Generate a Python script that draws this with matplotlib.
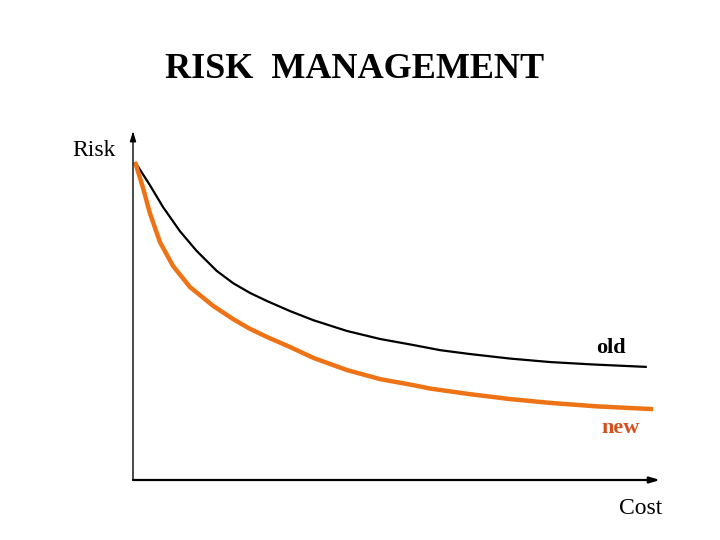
import matplotlib
matplotlib.use("Agg")
import matplotlib.pyplot as plt

# curves (cost and risk in arbitrary 0-100 units)
old_cost = [0.4, 3.2, 5.7, 8.9, 12.1, 15.9, 19.0, 22.2, 25.4, 29.8, 34.2, 40.6,
            46.9, 53.1, 58.3, 63.9, 71.5, 79.1, 87.3, 97.5]
old_risk = [91.1, 84.5, 78.2, 71.3, 65.6, 59.9, 56.4, 53.6, 51.3, 48.4, 45.8, 42.7,
            40.4, 38.7, 37.2, 36.1, 34.8, 33.8, 33.1, 32.4]

new_cost = [0.4, 1.9, 3.2, 5.1, 7.6, 10.8, 15.2, 19.0, 22.2, 25.4, 29.8, 34.2,
            40.6, 46.9, 53.1, 56.4, 63.9, 71.5, 79.1, 88.0, 98.7]
new_risk = [91.1, 83.7, 76.5, 68.2, 61.3, 55.3, 49.9, 46.1, 43.3, 41.0, 38.1, 35.0,
            31.5, 28.9, 27.2, 26.2, 24.6, 23.2, 22.1, 21.1, 20.3]

plt.rcParams["font.family"] = "Liberation Serif"

W, H = 720, 540
fig = plt.figure(figsize=(7.2, 5.4), dpi=100)
ax = fig.add_axes([133 / W, 60 / H, 527 / W, 349 / H])
ax.set_xlim(0, 100)
ax.set_ylim(0, 100)
ax.axis("off")

ax.plot(old_cost, old_risk, color="black", lw=1.6,
        solid_capstyle="butt", solid_joinstyle="round")
ax.plot(new_cost, new_risk, color="#ee7216", lw=3.2,
        solid_capstyle="butt", solid_joinstyle="round")

# axes with arrow heads
arrow = dict(arrowstyle="-|>,head_length=0.6,head_width=0.18", color="black",
             shrinkA=0, shrinkB=0)
ax.annotate("", xy=(100, 0), xytext=(0, 0), arrowprops=dict(arrow, lw=1.6),
            annotation_clip=False)
ax.annotate("", xy=(0, 100), xytext=(0, 0), arrowprops=dict(arrow, lw=1.0),
            annotation_clip=False)

fig.text(355 / W, 1 - 69 / H, "RISK  MANAGEMENT", ha="center", va="center",
         fontsize=26, fontweight="bold")
fig.text(116 / W, 1 - 151 / H, "Risk", ha="right", va="center", fontsize=17)
fig.text(662 / W, 1 - 508 / H, "Cost", ha="right", va="center", fontsize=17)
fig.text(611 / W, 1 - 348 / H, "old", ha="center", va="center", fontsize=16,
         fontweight="bold")
fig.text(621 / W, 1 - 428 / H, "new", ha="center", va="center", fontsize=16,
         fontweight="bold", color="#d4501e")

fig.savefig("out.png", dpi=100)
